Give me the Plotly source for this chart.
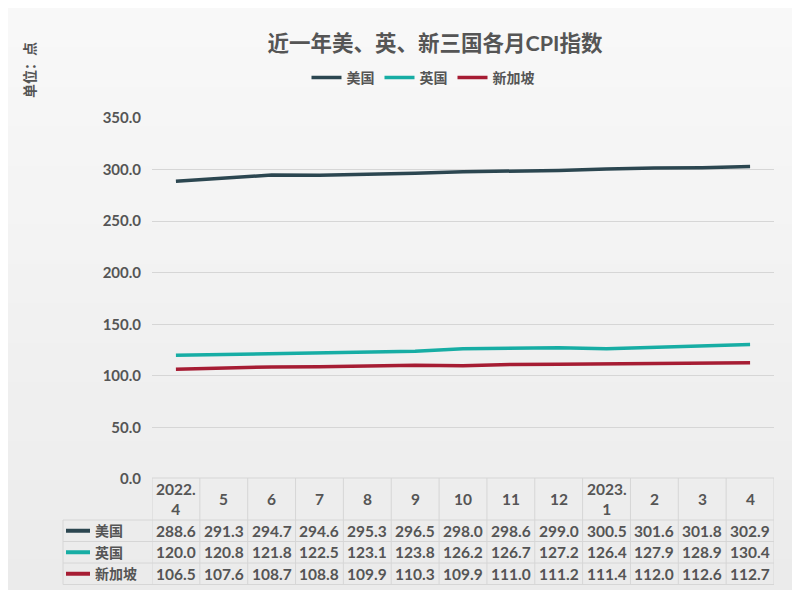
import plotly.graph_objects as go

months = ["2022.<br>4", "5", "6", "7", "8", "9", "10", "11", "12", "2023.<br>1", "2", "3", "4"]
series_names = ["美国", "英国", "新加坡"]
us = [288.6, 291.3, 294.7, 294.6, 295.3, 296.5, 298.0, 298.6, 299.0, 300.5, 301.6, 301.8, 302.9]
uk = [120.0, 120.8, 121.8, 122.5, 123.1, 123.8, 126.2, 126.7, 127.2, 126.4, 127.9, 128.9, 130.4]
sg = [106.5, 107.6, 108.7, 108.8, 109.9, 110.3, 109.9, 111.0, 111.2, 111.4, 112.0, 112.6, 112.7]
colors = ["#2b4650", "#17ada4", "#a61c33"]
yticks = [0, 50, 100, 150, 200, 250, 300, 350]

OFF = 8  # page offset of the figure in the browser
W, H = 800, 590
L, R, T, B = 152 - OFF, W - (774 - OFF), 118 - OFF, H - (479 - OFF)
PW, PH = W - L - R, H - T - B

def px_x(p):
    return (p - OFF - L) / PW

def px_y(p):
    return (H - B - (p - OFF)) / PH

TXT = "#555555"
GRID = "#d6d6d6"
FONT = "Lato, Noto Sans CJK SC, sans-serif"

idx = list(range(len(months)))
fig = go.Figure()
for name, vals, c in zip(series_names, [us, uk, sg], colors):
    fig.add_trace(go.Scatter(x=idx, y=vals, name=name, mode="lines",
                             line=dict(color=c, width=3.5)))

shapes = []
# background gradient
nb = 30
for i in range(nb):
    t = i / (nb - 1)
    v = int(round(248 - 13 * t))
    y0p = OFF + H * i / nb
    y1p = OFF + H * (i + 1) / nb + 1
    shapes.append(dict(type="rect", xref="paper", yref="paper",
                       x0=px_x(OFF), x1=px_x(OFF + W), y0=px_y(y0p), y1=px_y(y1p),
                       fillcolor=f"rgb({v},{v},{v})", line=dict(width=0), layer="below"))

# table geometry (reference pixels)
hdr_top, hdr_bot = 478, 520
row_h = 21.5
row_bots = [hdr_bot + row_h * (k + 1) for k in range(3)]
lab_left = 63

shapes.append(dict(type="line", xref="paper", yref="paper", x0=0, x1=1,
                   y0=px_y(hdr_top), y1=px_y(hdr_top), line=dict(color=GRID, width=1)))
for yb in [hdr_bot] + row_bots:
    shapes.append(dict(type="line", xref="paper", yref="paper", x0=px_x(lab_left), x1=1,
                       y0=px_y(yb), y1=px_y(yb), line=dict(color=GRID, width=1)))
for i in range(len(months) + 1):
    shapes.append(dict(type="line", xref="x", yref="paper", x0=i - 0.5, x1=i - 0.5,
                       y0=px_y(hdr_top), y1=px_y(row_bots[-1]), line=dict(color=GRID, width=1)))
shapes.append(dict(type="line", xref="paper", yref="paper", x0=px_x(lab_left), x1=px_x(lab_left),
                   y0=px_y(hdr_bot), y1=px_y(row_bots[-1]), line=dict(color=GRID, width=1)))

annotations = []
for i, m in enumerate(months):
    annotations.append(dict(x=i, y=px_y((hdr_top + hdr_bot) / 2), xref="x", yref="paper",
                            text=m, showarrow=False, font=dict(size=15.5, color=TXT, family=FONT, weight="bold"),
                            xanchor="center", yanchor="middle"))
prev = hdr_bot
for k, (name, vals, c) in enumerate(zip(series_names, [us, uk, sg], colors)):
    yc = (prev + row_bots[k]) / 2
    prev = row_bots[k]
    shapes.append(dict(type="line", xref="paper", yref="paper", x0=px_x(66), x1=px_x(90),
                       y0=px_y(yc), y1=px_y(yc), line=dict(color=c, width=4)))
    annotations.append(dict(x=px_x(93), y=px_y(yc), xref="paper", yref="paper", text=name,
                            showarrow=False, xanchor="left", yanchor="middle",
                            font=dict(size=14, color=TXT, family=FONT, weight="bold")))
    for i, v in enumerate(vals):
        annotations.append(dict(x=i, y=px_y(yc), xref="x", yref="paper", text=f"{v:.1f}",
                                showarrow=False, xanchor="center", yanchor="middle",
                                font=dict(size=15.5, color=TXT, family=FONT, weight="bold")))

annotations.append(dict(x=px_x(30), y=px_y(70), xref="paper", yref="paper", text="单位：点",
                        textangle=-90, showarrow=False, xanchor="center", yanchor="middle",
                        font=dict(size=14, color=TXT, family=FONT, weight="bold")))

fig.update_layout(
    width=W, height=H,
    margin=dict(l=L, r=R, t=T, b=B, autoexpand=False),
    paper_bgcolor="#f2f2f2", plot_bgcolor="rgba(0,0,0,0)",
    font=dict(family=FONT, color=TXT),
    title=dict(text="近一年美、英、新三国各月CPI指数", xref="container", yref="container",
               x=(435 - OFF) / W, y=1 - (43 - OFF) / H, xanchor="center", yanchor="middle",
               font=dict(size=21.5, color=TXT, family=FONT, weight="bold")),
    showlegend=True,
    legend=dict(orientation="h", x=px_x(423), y=px_y(78), xanchor="center", yanchor="middle",
                font=dict(size=14, color=TXT, family=FONT, weight="bold"),
                bgcolor="rgba(0,0,0,0)", itemwidth=30, tracegroupgap=0),
    xaxis=dict(range=[-0.5, len(months) - 0.5], showticklabels=False, showgrid=False,
               zeroline=False, showline=False, fixedrange=True),
    yaxis=dict(range=[0, 350], tickvals=yticks, ticktext=[f"{t:.1f}" for t in yticks],
               showgrid=True, gridcolor=GRID, gridwidth=1, zeroline=False, showline=False,
               ticks="", ticklabelstandoff=10,
               tickfont=dict(size=15, color=TXT, family=FONT, weight="bold")),
    shapes=shapes, annotations=annotations,
)

fig.write_html("out.html")
